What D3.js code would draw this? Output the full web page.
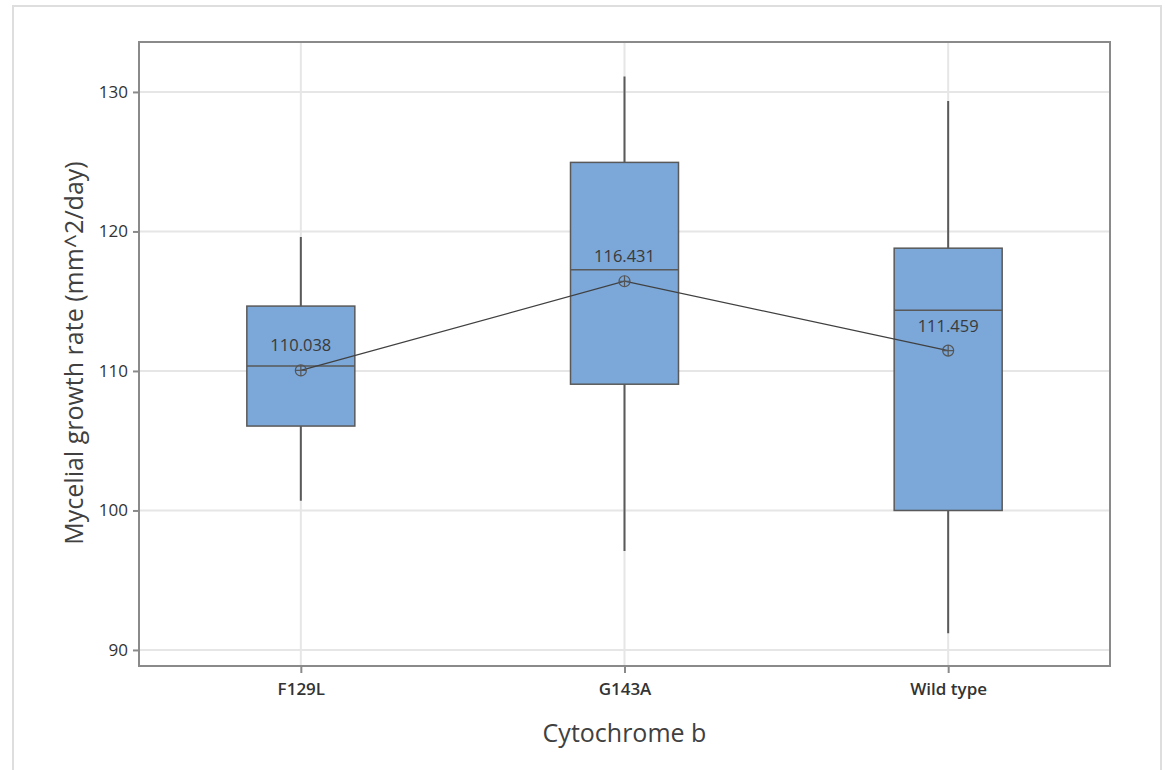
<!DOCTYPE html>
<html>
<head>
<meta charset="utf-8">
<script src="https://cdn.jsdelivr.net/npm/d3@7"></script>
<style>
  body { margin: 0; background: #fff; }
  svg { display: block; font-family: "Open Sans", "Noto Sans", sans-serif; }
</style>
</head>
<body>
<div id="chart"></div>
<script>
// Box plot data
var categories = ["F129L", "G143A", "Wild type"];
var whiskerLow  = [100.7, 97.1, 91.2];
var q1          = [106.05, 109.05, 100.0];
var medians     = [110.35, 117.25, 114.35];
var q3          = [114.65, 124.95, 118.8];
var whiskerHigh = [119.6, 131.1, 129.35];
var means       = [110.038, 116.431, 111.459];
var meanLabels  = ["110.038", "116.431", "111.459"];
var yTicks      = [90, 100, 110, 120, 130];

var W = 1165, H = 770;
var margin = {top: 42, right: 55, bottom: 104, left: 139};
var width  = W - margin.left - margin.right;
var height = H - margin.top - margin.bottom;

var svg = d3.select("#chart").append("svg")
    .attr("width", W)
    .attr("height", H);

// outer light frame
svg.append("rect")
    .attr("x", 13).attr("y", 6)
    .attr("width", 1148).attr("height", 780)
    .attr("fill", "none")
    .attr("stroke", "#dedede")
    .attr("stroke-width", 2);

var g = svg.append("g")
    .attr("transform", "translate(" + margin.left + "," + margin.top + ")");

var x = d3.scalePoint().domain(categories).range([0, width]).padding(0.5);
var y = d3.scaleLinear().domain([88.85, 133.58]).range([height, 0]);

// grid
g.selectAll(".hgrid").data(yTicks).enter().append("line")
    .attr("x1", 0).attr("x2", width)
    .attr("y1", function(d) { return y(d); })
    .attr("y2", function(d) { return y(d); })
    .attr("stroke", "#e6e6e6").attr("stroke-width", 2);

g.selectAll(".vgrid").data(categories).enter().append("line")
    .attr("x1", function(d) { return x(d); })
    .attr("x2", function(d) { return x(d); })
    .attr("y1", 0).attr("y2", height)
    .attr("stroke", "#e6e6e6").attr("stroke-width", 2);

// axes
var yAxis = g.append("g")
    .call(d3.axisLeft(y).tickValues(yTicks).tickSize(6).tickPadding(5));
var xAxis = g.append("g")
    .attr("transform", "translate(0," + height + ")")
    .call(d3.axisBottom(x).tickSize(7).tickPadding(8));

[yAxis, xAxis].forEach(function(a) {
  a.select(".domain").remove();
  a.selectAll("line").attr("stroke", "#8a8a8a").attr("stroke-width", 2);
  a.selectAll("text").attr("fill", "#333").attr("font-size", "17px")
      .attr("font-family", "'Open Sans', sans-serif");
});
xAxis.selectAll("text").attr("font-weight", 600).attr("dy", "0.8em");

var boxW = 108;
var idx = d3.range(categories.length);

// whiskers
g.selectAll(".whisker").data(idx).enter().append("line")
    .attr("x1", function(i) { return x(categories[i]); })
    .attr("x2", function(i) { return x(categories[i]); })
    .attr("y1", function(i) { return y(whiskerLow[i]); })
    .attr("y2", function(i) { return y(whiskerHigh[i]); })
    .attr("stroke", "#5a5a5a").attr("stroke-width", 2);

// boxes
g.selectAll(".box").data(idx).enter().append("rect")
    .attr("x", function(i) { return x(categories[i]) - boxW / 2; })
    .attr("y", function(i) { return y(q3[i]); })
    .attr("width", boxW)
    .attr("height", function(i) { return y(q1[i]) - y(q3[i]); })
    .attr("fill", "#7ba7d9")
    .attr("stroke", "#595959").attr("stroke-width", 1.5);

// medians
g.selectAll(".median").data(idx).enter().append("line")
    .attr("x1", function(i) { return x(categories[i]) - boxW / 2; })
    .attr("x2", function(i) { return x(categories[i]) + boxW / 2; })
    .attr("y1", function(i) { return y(medians[i]); })
    .attr("y2", function(i) { return y(medians[i]); })
    .attr("stroke", "#595959").attr("stroke-width", 1.5);

// mean connect line
g.append("path")
    .datum(idx)
    .attr("fill", "none")
    .attr("stroke", "#404040").attr("stroke-width", 1.2)
    .attr("d", d3.line()
        .x(function(i) { return x(categories[i]); })
        .y(function(i) { return y(means[i]); }));

// mean symbols (circle with cross)
var sym = g.selectAll(".mean").data(idx).enter().append("g")
    .attr("transform", function(i) {
      return "translate(" + x(categories[i]) + "," + y(means[i]) + ")";
    });
sym.append("circle").attr("r", 5.5)
    .attr("fill", "none").attr("stroke", "#555").attr("stroke-width", 1.2);
sym.append("path").attr("d", "M-5.5,0H5.5M0,-5.5V5.5")
    .attr("stroke", "#555").attr("stroke-width", 1.2);

// mean labels
g.selectAll(".meanLabel").data(idx).enter().append("text")
    .attr("x", function(i) { return x(categories[i]); })
    .attr("y", function(i) { return y(means[i]) - 19; })
    .attr("text-anchor", "middle")
    .attr("font-size", "16.5px")
    .attr("fill", "#3a3a3a")
    .text(function(i) { return meanLabels[i]; });

// plot frame
g.append("rect")
    .attr("x", 0).attr("y", 0)
    .attr("width", width).attr("height", height)
    .attr("fill", "none")
    .attr("stroke", "#8a8a8a").attr("stroke-width", 2);

// axis titles
svg.append("text")
    .attr("x", margin.left + width / 2)
    .attr("y", 742)
    .attr("text-anchor", "middle")
    .attr("font-size", "25px")
    .attr("fill", "#404040")
    .text("Cytochrome b");

svg.append("text")
    .attr("transform", "translate(83,353) rotate(-90)")
    .attr("text-anchor", "middle")
    .attr("font-size", "25px")
    .attr("fill", "#404040")
    .text("Mycelial growth rate (mm^2/day)");
</script>
</body>
</html>
